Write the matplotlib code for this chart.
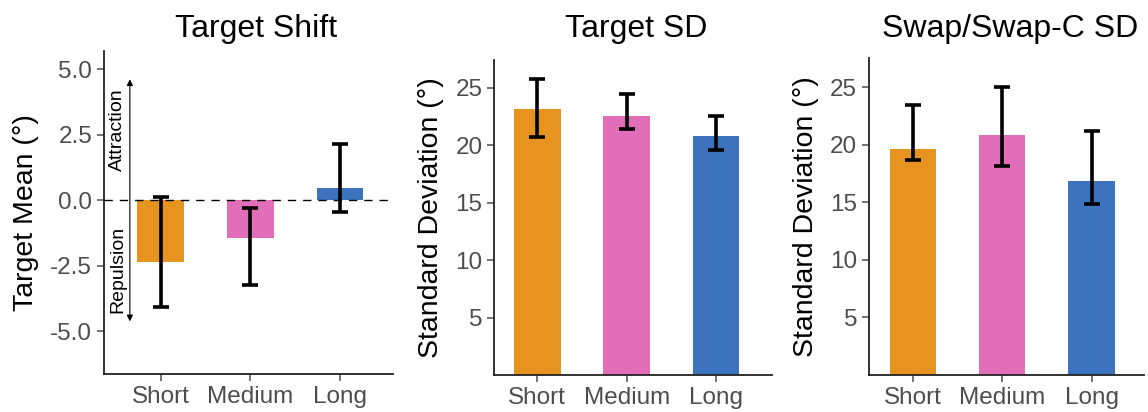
import numpy as np
import matplotlib
matplotlib.use('Agg')
import matplotlib.pyplot as plt

plt.rcParams['font.family'] = ['Liberation Sans', 'DejaVu Sans']

conditions = ['Short', 'Medium', 'Long']
colors = ['#E69320', '#E26DB8', '#3D72BC']

shift_mean = [-2.34, -1.43, 0.47]
shift_lo = [-4.06, -3.23, -0.46]
shift_hi = [0.13, -0.28, 2.14]

target_sd = [23.13, 22.52, 20.78]
target_sd_lo = [20.69, 21.39, 19.55]
target_sd_hi = [25.75, 24.46, 22.52]

swap_sd = [19.66, 20.88, 16.87]
swap_sd_lo = [18.7, 18.12, 14.89]
swap_sd_hi = [23.43, 24.98, 21.2]

grey = '#4d4d4d'

fig = plt.figure(figsize=(11.48, 4.12), dpi=100)
ax1 = fig.add_axes([0.0906, 0.0922, 0.2517, 0.7840])
ax2 = fig.add_axes([0.4306, 0.0898, 0.2416, 0.7646])
ax3 = fig.add_axes([0.7570, 0.0898, 0.2398, 0.7702])


def bar_panel(ax, mean, lo, hi, title, title_x, ylabel):
    x = np.arange(len(conditions))
    mean = np.array(mean)
    yerr = [mean - np.array(lo), np.array(hi) - mean]
    ax.bar(x, mean, width=0.52, color=colors, zorder=2)
    ax.errorbar(x, mean, yerr=yerr, fmt='none', ecolor='black',
                elinewidth=2.6, capsize=6, capthick=2.6, zorder=3)
    ax.set_xticks(x)
    ax.set_xticklabels(conditions)
    # titles share one baseline across the three panels
    fig.text(title_x, 0.91, title, fontsize=23, ha='center', va='baseline')
    ax.set_ylabel(ylabel, fontsize=20.5, labelpad=8)
    for s in ['top', 'right']:
        ax.spines[s].set_visible(False)
    for s in ['left', 'bottom']:
        ax.spines[s].set_linewidth(1.3)
        ax.spines[s].set_color('#222222')
    ax.tick_params(axis='both', labelsize=17.5, colors=grey, length=5,
                   width=1.1, labelcolor=grey)


bar_panel(ax1, shift_mean, shift_lo, shift_hi, 'Target Shift', 256 / 1148, 'Target Mean (°)')
ax1.set_xlim(-0.63, 2.59)
ax1.set_ylim(-6.63, 5.7)
ax1.set_yticks([-5, -2.5, 0, 2.5, 5])
ax1.set_yticklabels(['-5.0', '-2.5', '0.0', '2.5', '5.0'])
ax1.axhline(0, color='black', lw=1.0, ls=(0, (6, 5)), zorder=4)
ax1.annotate('', xy=(-0.342, 4.62), xytext=(-0.342, -4.62),
             arrowprops=dict(arrowstyle='<|-|>', color='black', lw=0.8,
                             mutation_scale=9, shrinkA=0, shrinkB=0))
ax1.text(-0.48, 2.70, 'Attraction', rotation=90, ha='center', va='center', fontsize=14)
ax1.text(-0.48, -2.65, 'Repulsion', rotation=90, ha='center', va='center', fontsize=14)

bar_panel(ax2, target_sd, target_sd_lo, target_sd_hi, 'Target SD', 636 / 1148, 'Standard Deviation (°)')
ax2.set_xlim(-0.48, 2.62)
ax2.set_ylim(0, 27.4)
ax2.set_yticks([5, 10, 15, 20, 25])

bar_panel(ax3, swap_sd, swap_sd_lo, swap_sd_hi, 'Swap/Swap-C SD', 1010 / 1148, 'Standard Deviation (°)')
ax3.set_xlim(-0.49, 2.59)
ax3.set_ylim(0, 27.56)
ax3.set_yticks([5, 10, 15, 20, 25])

fig.savefig('out.png', dpi=100)
